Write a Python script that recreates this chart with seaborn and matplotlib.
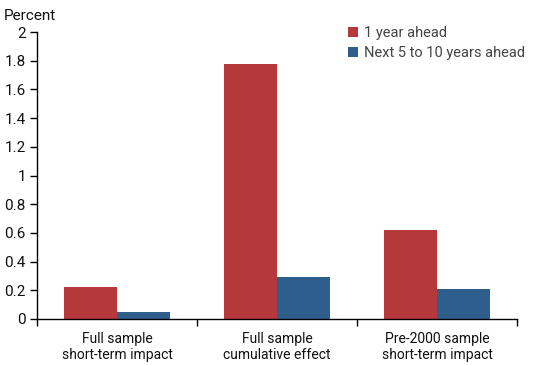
import matplotlib
matplotlib.use("Agg")
import matplotlib.pyplot as plt
import seaborn as sns
import pandas as pd
from matplotlib.ticker import FixedLocator

categories = ["Full sample\nshort-term impact", "Full sample\ncumulative effect", "Pre-2000 sample\nshort-term impact"]
series = ["1 year ahead", "Next 5 to 10 years ahead"]
one_year = [0.22, 1.78, 0.62]
five_ten = [0.05, 0.29, 0.21]
yticks = [0, 0.2, 0.4, 0.6, 0.8, 1, 1.2, 1.4, 1.6, 1.8, 2]
ytick_labels = ["0", "0.2", "0.4", "0.6", "0.8", "1", "1.2", "1.4", "1.6", "1.8", "2"]

df = pd.DataFrame({
    "category": categories * 2,
    "series": [series[0]] * 3 + [series[1]] * 3,
    "value": one_year + five_ten,
})

sns.set_style("white")
plt.rcParams['font.family'] = ['Roboto', 'DejaVu Sans']

fig = plt.figure(figsize=(5.5, 3.65), dpi=100)
ax = fig.add_axes([37/550, 1 - 319/365, 480/550, 287/365])

sns.barplot(data=df, x="category", y="value", hue="series", order=categories,
            hue_order=series, palette=["#B5393A", "#2E5E8C"], width=0.66,
            saturation=1, ax=ax, errorbar=None, linewidth=0, gap=0)

ax.set_ylim(0, 2)
ax.set_xlim(-0.5, 2.5)
ax.set_yticks(yticks)
ax.set_yticklabels(ytick_labels, fontsize=11, color="#111111")
ax.set_xticks(range(3))
ax.set_xticklabels(categories, fontsize=10, color="#111111", linespacing=1.25)
ax.xaxis.set_minor_locator(FixedLocator([-0.5, 0.5, 1.5, 2.5]))
ax.tick_params(axis="x", which="major", length=0, pad=9)
ax.tick_params(axis="x", which="minor", length=5, width=1, color="black", direction="out", bottom=True)
ax.tick_params(axis="y", length=5, width=1, color="black", direction="out", left=True, pad=3)
ax.set_xlabel("")
ax.set_ylabel("")
for s in ["top", "right"]:
    ax.spines[s].set_visible(False)
for s in ["left", "bottom"]:
    ax.spines[s].set_color("black")
    ax.spines[s].set_linewidth(1)

leg = ax.legend(loc="upper left", bbox_to_anchor=(0.62, 1.065), frameon=False, fontsize=10.5,
                handlelength=0.7, handleheight=0.7, handletextpad=0.4, labelspacing=0.4,
                title=None)
for t in leg.get_texts():
    t.set_color("#444444")

fig.text(4/550, 1 - 16/365, "Percent", fontsize=11, color="#111111", va="center", ha="left")

fig.savefig("out.png", dpi=100)
